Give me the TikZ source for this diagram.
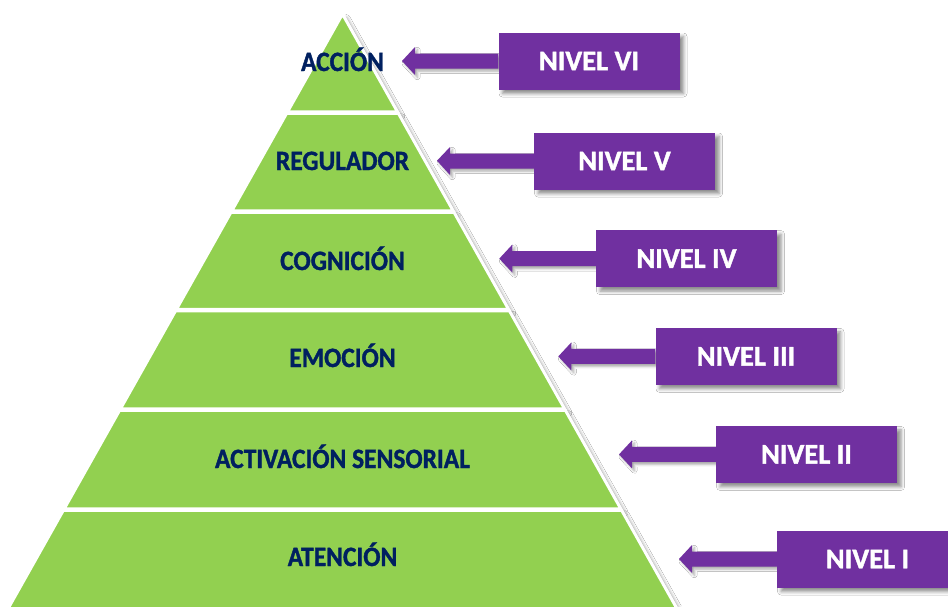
\documentclass[tikz,border=0pt]{standalone}
\usepackage{fontspec}
\setmainfont{Carlito}
\newfontfamily\labfont[FakeStretch=0.91,FakeBold=1.2]{Carlito Bold}
\newfontfamily\boxfont[FakeBold=1.4]{Carlito Bold}
\usetikzlibrary{arrows.meta,shadows.blur}
\definecolor{pgreen}{HTML}{92D050}
\definecolor{ppurple}{HTML}{7030A0}
\definecolor{pnavy}{HTML}{002060}
\tikzset{
  softshadow/.style={blur shadow={shadow xshift=4pt, shadow yshift=-4pt, shadow blur radius=3.5pt, shadow opacity=45}},
  band/.style={fill=pgreen, draw=white, line width=3pt, line join=miter, softshadow},
  lbl/.style={font=\labfont\fontsize{28}{30}\selectfont, text=pnavy, anchor=base, inner sep=0pt},
  nivel/.style={fill=ppurple, minimum width=181pt, minimum height=57pt, inner sep=0pt,
    text=white, font=\boxfont\fontsize{28.5}{30}\selectfont, softshadow},
  arrowfill/.style={fill=ppurple, blur shadow={shadow xshift=2.5pt, shadow yshift=-2.5pt, shadow blur radius=2.5pt, shadow opacity=35}}
}
\newcommand{\pyrband}[2]{%
  \path[band] ({342.5-0.5625*(#1-14)},#1) -- ({342.5+0.5625*(#1-14)},#1)
    -- ({342.5+0.5625*(#2-14)},#2) -- ({342.5-0.5625*(#2-14)},#2) -- cycle;}
\newcommand{\levelarrow}[2]{%
  \path[arrowfill] let \p1=(#1.west), \p2=(#2) in
    (\x1,\y1+7.5pt) -- (\x2+13pt,\y1+7.5pt) -- (\x2+13pt,\y1+14pt) -- (\x2,\y2)
    -- (\x2+13pt,\y1-14pt) -- (\x2+13pt,\y1-7.5pt) -- (\x1,\y1-7.5pt) -- cycle;}
\begin{document}
\begin{tikzpicture}[x=1pt,y=-1pt]
\useasboundingbox (0,0) rectangle (948,606);
\clip (0,0) rectangle (948,606);
\fill[white] (0,0) rectangle (948,606);
% pyramid bands
\path[band] (342.5,14) -- ({342.5+0.5625*(111.75-14)},111.75) -- ({342.5-0.5625*(111.75-14)},111.75) -- cycle;
\pyrband{113.25}{210.75}
\pyrband{212.25}{309.25}
\pyrband{310.75}{408.75}
\pyrband{410.25}{508.75}
\pyrband{510.25}{640}
% labels
\node[lbl] (l6) at (342.5,71) {ACCIÓN};
\node[lbl] (l5) at (342.5,170) {REGULADOR};
\node[lbl] (l4) at (342.5,270) {COGNICIÓN};
\node[lbl] (l3) at (342.5,367) {EMOCIÓN};
\node[lbl] (l2) at (342.5,468) {ACTIVACIÓN SENSORIAL};
\node[lbl] (l1) at (342.5,566) {ATENCIÓN};
% arrow tips
\coordinate (t6) at (402,61);
\coordinate (t5) at (437,160.7);
\coordinate (t4) at (499.3,258.6);
\coordinate (t3) at (558.3,356.4);
\coordinate (t2) at (619,454.4);
\coordinate (t1) at (679,559);
% level box centres
\path (589,61) coordinate (c6) (624.5,161) coordinate (c5) (686.5,258.6) coordinate (c4)
      (746,356.4) coordinate (c3) (806.5,454.4) coordinate (c2) (867.5,559) coordinate (c1);
\path (c6) node[minimum width=181pt, minimum height=57pt] (p6) {};
\path (c5) node[minimum width=181pt, minimum height=57pt] (p5) {};
\path (c4) node[minimum width=181pt, minimum height=57pt] (p4) {};
\path (c3) node[minimum width=181pt, minimum height=57pt] (p3) {};
\path (c2) node[minimum width=181pt, minimum height=57pt] (p2) {};
\path (c1) node[minimum width=181pt, minimum height=57pt] (p1) {};
\levelarrow{p6}{t6}
\levelarrow{p5}{t5}
\levelarrow{p4}{t4}
\levelarrow{p3}{t3}
\levelarrow{p2}{t2}
\levelarrow{p1}{t1}
\node[nivel] (b6) at (c6) {NIVEL VI};
\node[nivel] (b5) at (c5) {NIVEL V};
\node[nivel] (b4) at (c4) {NIVEL IV};
\node[nivel] (b3) at (c3) {NIVEL III};
\node[nivel] (b2) at (c2) {NIVEL II};
\node[nivel] (b1) at (c1) {NIVEL I};
\end{tikzpicture}
\end{document}
